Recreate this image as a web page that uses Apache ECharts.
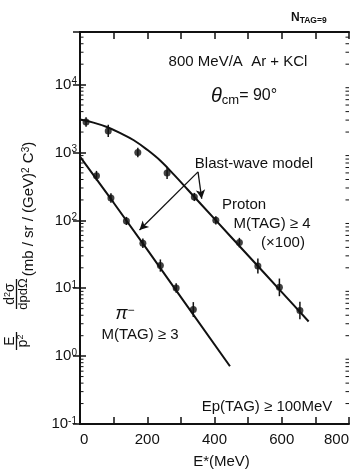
<!DOCTYPE html>
<html>
<head>
<meta charset="utf-8">
<script src="https://cdn.jsdelivr.net/npm/echarts@6/dist/echarts.min.js"></script>
<style>
  html, body { margin: 0; padding: 0; background: #fff; }
  #chart { width: 352px; height: 474px; }
</style>
</head>
<body>
<div id="chart"></div>
<script>
// Proton invariant cross sections (scaled ×100), M(TAG) ≥ 4
const protonE   = [18, 84, 172, 259, 340, 404, 474, 529, 593, 654];
const protonVal = [2810, 2080, 1000, 500, 221, 100, 47, 21.3, 10.3, 4.7];
const protonErr = [0.07, 0.09, 0.07, 0.09, 0.06, 0.06, 0.07, 0.11, 0.13, 0.13]; // half-length, decades

// π− invariant cross sections, M(TAG) ≥ 3
const pionE   = [49, 92, 138, 187, 239, 286, 337];
const pionVal = [456, 213, 98, 46, 21.6, 10.1, 4.85];
const pionErr = [0.07, 0.07, 0.06, 0.07, 0.09, 0.07, 0.11];

// Blast-wave model curves
const protonModelE   = [0, 40, 80, 120, 160, 200, 240, 280, 320, 400, 500, 600, 680];
const protonModelVal = [3055, 2754, 2371, 1928, 1514, 1096, 750, 468, 285, 105, 30.4, 8.77, 3.24];
const pionModelE   = [0, 100, 200, 300, 446];
const pionModelVal = [870, 182, 37, 7.4, 0.71];

// Arrow endpoints [E, value] from the "Blast-wave model" label
const arrowStart = [351, 518];
const arrowToProton = [362, 208];
const arrowToPion = [177, 72];

// Axis ticks and labels
const xLabels = [0, 200, 400, 600, 800];
const yDecades = [-1, 0, 1, 2, 3, 4];
const xMin = 0, xMax = 800, xStep = 100;
const yMin = 0.1, yMax = 59570;

const FONT = "'Liberation Sans', Arial, sans-serif";
const INK = '#111';

function errorBars(E, V, err) {
  return {
    type: 'custom',
    silent: true,
    z: 3,
    data: E.map((e, i) => [e, V[i] * Math.pow(10, -err[i]), V[i] * Math.pow(10, err[i])]),
    encode: { x: 0, y: [1, 2] },
    renderItem(params, api) {
      const a = api.coord([api.value(0), api.value(1)]);
      const b = api.coord([api.value(0), api.value(2)]);
      return {
        type: 'line',
        shape: { x1: a[0], y1: a[1], x2: b[0], y2: b[1] },
        style: { stroke: INK, lineWidth: 1.5 }
      };
    }
  };
}

// minor ticks at 2..9 × 10^k on both vertical axes
const minorTickVals = [];
yDecades.forEach(k => {
  for (let m = 2; m <= 9; m++) {
    const v = m * Math.pow(10, k);
    if (v < yMax) minorTickVals.push(v);
  }
});

const axisLineStyle = { show: true, lineStyle: { color: INK, width: 2 } };

const chart = echarts.init(document.getElementById('chart'), null, { renderer: 'canvas' });

chart.setOption({
  animation: false,
  backgroundColor: '#fff',
  grid: { left: 80, top: 32, width: 271, height: 395, containLabel: false },
  xAxis: [
    {
      type: 'value', position: 'bottom', min: xMin, max: xMax, interval: xStep,
      axisLine: axisLineStyle,
      axisTick: { show: true, inside: true, length: 7, lineStyle: { color: INK, width: 1.5 } },
      splitLine: { show: false },
      axisLabel: {
        color: INK, fontSize: 15, fontFamily: FONT, margin: 8,
        alignMinLabel: 'left', alignMaxLabel: 'right',
        formatter: v => (xLabels.indexOf(v) >= 0 ? String(v) : '')
      },
      name: 'E{s|*}(MeV)',
      nameLocation: 'middle', nameGap: 30,
      nameTextStyle: {
        color: INK, fontSize: 15, fontFamily: FONT, padding: [0, 0, 0, 14],
        rich: { s: { fontSize: 15, fontFamily: FONT, color: INK, verticalAlign: 'top', lineHeight: 12 } }
      }
    },
    {
      type: 'value', position: 'top', min: xMin, max: xMax, interval: xStep,
      axisLine: axisLineStyle,
      axisTick: { show: true, inside: true, length: 7, lineStyle: { color: INK, width: 1.5 } },
      splitLine: { show: false },
      axisLabel: { show: false }
    }
  ],
  yAxis: [
    {
      type: 'log', logBase: 10, position: 'left', min: yMin, max: yMax,
      axisLine: axisLineStyle,
      axisTick: { show: true, inside: true, length: 6, lineStyle: { color: INK, width: 1.5 } },
      splitLine: { show: false },
      axisLabel: {
        color: INK, fontSize: 15, fontFamily: FONT, margin: 3,
        formatter: v => {
          const e = Math.log10(v);
          const r = Math.round(e);
          if (Math.abs(e - r) > 1e-6 || yDecades.indexOf(r) < 0) return '';
          return '{b|10}{s|' + String(r) + '}';
        },
        rich: {
          b: { fontSize: 15, fontFamily: FONT, color: INK, lineHeight: 16 },
          s: { fontSize: 10, fontFamily: FONT, color: INK, verticalAlign: 'top', lineHeight: 10 }
        }
      }
    },
    {
      type: 'log', logBase: 10, position: 'right', min: yMin, max: yMax,
      axisLine: axisLineStyle,
      axisTick: { show: true, inside: true, length: 7, lineStyle: { color: INK, width: 1.5 } },
      splitLine: { show: false },
      axisLabel: { show: false }
    }
  ],
  series: [
    {
      name: 'minor ticks',
      type: 'custom', silent: true, z: 1,
      data: minorTickVals.map(v => [xMin, v]),
      renderItem(params, api) {
        const l = api.coord([xMin, api.value(1)]);
        const r = api.coord([xMax, api.value(1)]);
        return {
          type: 'group',
          children: [
            { type: 'line', shape: { x1: l[0], y1: l[1], x2: l[0] + 3.5, y2: l[1] }, style: { stroke: INK, lineWidth: 1 } },
            { type: 'line', shape: { x1: r[0] - 3.5, y1: r[1], x2: r[0], y2: r[1] }, style: { stroke: INK, lineWidth: 1 } }
          ]
        };
      }
    },
    {
      name: 'Blast-wave proton',
      type: 'line', smooth: 0.4, showSymbol: false, silent: true, z: 2,
      data: protonModelE.map((e, i) => [e, protonModelVal[i]]),
      lineStyle: { color: INK, width: 2 },
      markLine: {
        silent: true, symbol: ['none', 'arrow'], symbolSize: [7, 9],
        label: { show: false },
        lineStyle: { color: INK, width: 1.3, type: 'solid' },
        data: [
          [{ coord: arrowStart }, { coord: arrowToProton }],
          [{ coord: arrowStart }, { coord: arrowToPion }]
        ]
      }
    },
    {
      name: 'Blast-wave pion',
      type: 'line', showSymbol: false, silent: true, z: 2,
      data: pionModelE.map((e, i) => [e, pionModelVal[i]]),
      lineStyle: { color: INK, width: 2 }
    },
    errorBars(protonE, protonVal, protonErr),
    errorBars(pionE, pionVal, pionErr),
    {
      name: 'Proton',
      type: 'scatter', symbol: 'circle', symbolSize: 7, z: 4,
      data: protonE.map((e, i) => [e, protonVal[i]]),
      itemStyle: { color: INK }
    },
    {
      name: 'pi-',
      type: 'scatter', symbol: 'circle', symbolSize: 7, z: 4,
      data: pionE.map((e, i) => [e, pionVal[i]]),
      itemStyle: { color: INK }
    }
  ],
  graphic: [
    // tag multiplicity, top right
    { type: 'text', x: 291, y: 18, style: {
        text: '{n|N}{s|TAG=9}', align: 'left', verticalAlign: 'middle', fill: INK,
        rich: {
          n: { fontSize: 12, fontWeight: 'bold', fontFamily: FONT, fill: INK, lineHeight: 14 },
          s: { fontSize: 8.5, fontWeight: 'bold', fontFamily: FONT, fill: INK, verticalAlign: 'bottom', lineHeight: 10 }
        } } },
    { type: 'text', x: 238, y: 62, style: { text: '800 MeV/A  Ar + KCl', align: 'center', verticalAlign: 'middle', fontSize: 15, fontFamily: FONT, fill: INK } },
    { type: 'text', x: 211, y: 96, style: {
        text: '{t|\u03B8}{c|cm}{n|= 90\u00B0}', align: 'left', verticalAlign: 'middle', fill: INK,
        rich: {
          t: { fontSize: 20, fontStyle: 'italic', fontFamily: FONT, fill: INK, lineHeight: 22 },
          c: { fontSize: 13, fontFamily: FONT, fill: INK, verticalAlign: 'bottom', lineHeight: 14 },
          n: { fontSize: 16, fontFamily: FONT, fill: INK, lineHeight: 18 }
        } } },
    { type: 'text', x: 254, y: 164, style: { text: 'Blast-wave model', align: 'center', verticalAlign: 'middle', fontSize: 15, fontFamily: FONT, fill: INK } },
    { type: 'text', x: 244, y: 205, style: { text: 'Proton', align: 'center', verticalAlign: 'middle', fontSize: 15, fontFamily: FONT, fill: INK } },
    { type: 'text', x: 272, y: 224, style: { text: 'M(TAG) \u2265 4', align: 'center', verticalAlign: 'middle', fontSize: 15, fontFamily: FONT, fill: INK } },
    { type: 'text', x: 283, y: 243, style: { text: '(\u00D7100)', align: 'center', verticalAlign: 'middle', fontSize: 15, fontFamily: FONT, fill: INK } },
    { type: 'text', x: 125, y: 314, style: {
        text: '{p|\u03C0}{s|\u2212}', align: 'center', verticalAlign: 'middle', fill: INK,
        rich: {
          p: { fontSize: 18, fontStyle: 'italic', fontFamily: FONT, fill: INK, lineHeight: 18 },
          s: { fontSize: 12, fontFamily: FONT, fill: INK, verticalAlign: 'top', lineHeight: 12 }
        } } },
    { type: 'text', x: 140, y: 335, style: { text: 'M(TAG) \u2265 3', align: 'center', verticalAlign: 'middle', fontSize: 15, fontFamily: FONT, fill: INK } },
    { type: 'text', x: 267, y: 407, style: { text: 'Ep(TAG) \u2265 100MeV', align: 'center', verticalAlign: 'middle', fontSize: 15, fontFamily: FONT, fill: INK } },

    // vertical axis title: (E/p²)(d²σ/dp dΩ) (mb/sr/(GeV)²c³)
    { type: 'text', x: 10, y: 341, rotation: Math.PI / 2, style: { text: 'E', align: 'center', verticalAlign: 'middle', fontSize: 14, fontFamily: FONT, fill: INK } },
    { type: 'line', shape: { x1: 16.5, y1: 332, x2: 16.5, y2: 350 }, style: { stroke: INK, lineWidth: 1.3 } },
    { type: 'text', x: 23, y: 341, rotation: Math.PI / 2, style: {
        text: 'p{s|2}', align: 'center', verticalAlign: 'middle', fontSize: 14, fontFamily: FONT, fill: INK,
        rich: { s: { fontSize: 9, fontFamily: FONT, fill: INK, verticalAlign: 'top', lineHeight: 9 } } } },
    { type: 'text', x: 10, y: 294, rotation: Math.PI / 2, style: {
        text: 'd{s|2}\u03C3', align: 'center', verticalAlign: 'middle', fontSize: 14, fontFamily: FONT, fill: INK,
        rich: { s: { fontSize: 9, fontFamily: FONT, fill: INK, verticalAlign: 'top', lineHeight: 9 } } } },
    { type: 'line', shape: { x1: 16.5, y1: 279, x2: 16.5, y2: 309 }, style: { stroke: INK, lineWidth: 1.3 } },
    { type: 'text', x: 23, y: 294, rotation: Math.PI / 2, style: { text: 'dpd\u03A9', align: 'center', verticalAlign: 'middle', fontSize: 13, fontFamily: FONT, fill: INK } },
    { type: 'text', x: 29, y: 209, rotation: Math.PI / 2, style: {
        text: '(mb / sr / (GeV){s|2} C{s|3})', align: 'center', verticalAlign: 'middle', fontSize: 15, fontFamily: FONT, fill: INK,
        rich: { s: { fontSize: 10, fontFamily: FONT, fill: INK, verticalAlign: 'top', lineHeight: 10 } } } }
  ]
});
</script>
</body>
</html>
